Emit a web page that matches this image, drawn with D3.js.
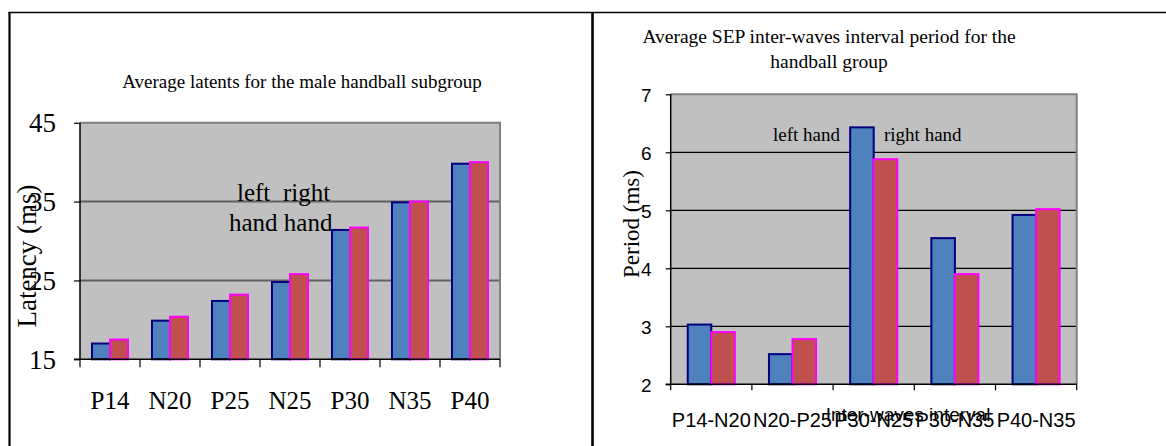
<!DOCTYPE html>
<html>
<head>
<meta charset="utf-8">
<script src="https://cdn.jsdelivr.net/npm/d3@7"></script>
<style>
  html, body { margin: 0; padding: 0; background: #fff; }
  svg { display: block; }
</style>
</head>
<body>
<svg id="chart" width="1166" height="446"></svg>
<script>
// ---- Data: latencies per wave (left panel) ----
const latencyWaves = ["P14", "N20", "P25", "N25", "P30", "N35", "P40"];
const latencyLeft  = [17.0, 19.9, 22.4, 24.8, 31.4, 34.9, 39.8];
const latencyRight = [17.5, 20.4, 23.2, 25.8, 31.7, 35.0, 40.0];
const latencyTicks = [15, 25, 35, 45];

// ---- Data: inter-wave interval periods (right panel) ----
const intervals    = ["P14-N20", "N20-P25", "P30-N25", "P30-N35", "P40-N35"];
const periodLeft   = [3.03, 2.52, 6.43, 4.52, 4.92];
const periodRight  = [2.90, 2.78, 5.88, 3.90, 5.02];
const periodTicks  = [2, 3, 4, 5, 6, 7];

const hands = ["left", "right"];
const SERIF = "'Liberation Serif', 'Times New Roman', serif";
const SANS  = "'Liberation Sans', Arial, sans-serif";

const svg = d3.select("#chart");

// Panel frames
const frame = svg.append("g").attr("stroke", "#000").attr("fill", "none");
frame.append("line").attr("x1", 8.5).attr("x2", 1166).attr("y1", 12.5).attr("y2", 12.5).attr("stroke-width", 1.6);
frame.append("line").attr("x1", 9.5).attr("x2", 9.5).attr("y1", 12).attr("y2", 446).attr("stroke-width", 2.2);
frame.append("line").attr("x1", 592.5).attr("x2", 592.5).attr("y1", 12).attr("y2", 446).attr("stroke-width", 2.6);

function drawPanel(cfg) {
  const g = svg.append("g");
  const y = d3.scaleLinear().domain(cfg.domain).range([cfg.bottom, cfg.top]);
  const x = d3.scaleBand().domain(cfg.cats).range([cfg.left, cfg.right])
    .paddingInner(cfg.padIn).paddingOuter(cfg.padOut);
  const xs = d3.scaleBand().domain(hands).range([0, x.bandwidth()]);
  const step = (cfg.right - cfg.left) / cfg.cats.length;

  // plot background
  g.append("rect").attr("x", cfg.left).attr("y", cfg.top)
    .attr("width", cfg.right - cfg.left).attr("height", cfg.bottom - cfg.top)
    .attr("fill", "#c0c0c0");

  // horizontal gridlines
  const inner = cfg.ticks.filter(t => t !== cfg.domain[0] && t !== cfg.domain[1]);
  g.append("g").selectAll("line").data(inner).join("line")
    .attr("x1", cfg.left).attr("x2", cfg.right)
    .attr("y1", d => y(d)).attr("y2", d => y(d))
    .attr("stroke", cfg.gridColor).attr("stroke-width", cfg.gridWidth);

  // top and right plot border
  g.append("path")
    .attr("d", `M${cfg.left},${y(cfg.domain[1])}H${cfg.right}V${cfg.bottom}`)
    .attr("fill", "none").attr("stroke", "#808080").attr("stroke-width", 2);

  // bars
  const rows = cfg.cats.map((c, i) => ({ c, left: cfg.leftVals[i], right: cfg.rightVals[i] }));
  const grp = g.append("g").selectAll("g").data(rows).join("g")
    .attr("transform", d => `translate(${x(d.c)},0)`);
  grp.append("rect")
    .attr("x", xs("left")).attr("width", xs.bandwidth())
    .attr("y", d => y(d.left)).attr("height", d => cfg.bottom - y(d.left))
    .attr("fill", "#4f81bd").attr("stroke", "#000080").attr("stroke-width", cfg.barStroke);
  grp.append("rect")
    .attr("x", xs("right")).attr("width", xs.bandwidth())
    .attr("y", d => y(d.right)).attr("height", d => cfg.bottom - y(d.right))
    .attr("fill", "#c0504d").attr("stroke", "#ff00ff").attr("stroke-width", cfg.barStroke);

  // y axis
  const yAxis = d3.axisLeft(y).tickValues(cfg.ticks).tickSize(cfg.yTick).tickPadding(cfg.yPad)
    .tickFormat(d3.format("d"));
  const ya = g.append("g").attr("transform", `translate(${cfg.left},0)`).call(yAxis);
  ya.select(".domain").attr("stroke", "#000").attr("stroke-width", 1.5)
    .attr("d", `M0,${cfg.top}V${cfg.bottom}`);
  ya.selectAll(".tick line").attr("stroke", "#000").attr("stroke-width", 1.2);
  ya.selectAll(".tick text").attr("font-family", cfg.yFont).attr("font-size", cfg.yFontSize)
    .attr("fill", "#000").attr("dy", cfg.yDy);

  // x axis: ticks at category boundaries
  const bounds = d3.range(cfg.cats.length + 1).map(i => cfg.left + i * step);
  g.append("line").attr("x1", cfg.left - cfg.yTick).attr("x2", cfg.right)
    .attr("y1", cfg.bottom).attr("y2", cfg.bottom)
    .attr("stroke", "#000").attr("stroke-width", 1.5);
  g.append("g").selectAll("line").data(bounds).join("line")
    .attr("x1", d => d).attr("x2", d => d)
    .attr("y1", cfg.bottom).attr("y2", cfg.bottom + cfg.xTick)
    .attr("stroke", "#000").attr("stroke-width", 1.2);
  g.append("g").selectAll("text").data(cfg.cats).join("text")
    .attr("x", d => x(d) + x.bandwidth() / 2).attr("y", cfg.xLabelY)
    .attr("text-anchor", "middle").attr("font-family", cfg.xFont)
    .attr("font-size", cfg.xFontSize).attr("fill", "#000").text(d => d);

  return { g, x, y };
}

// ---- Left panel: average latencies ----
const L = drawPanel({
  cats: latencyWaves, leftVals: latencyLeft, rightVals: latencyRight,
  domain: [15, 45], ticks: latencyTicks,
  left: 80, right: 500, top: 122.7, bottom: 359.3,
  padIn: 0.4, padOut: 0.2,
  gridColor: "#606060", gridWidth: 2, barStroke: 2,
  yTick: 6, yPad: 18, yFont: SERIF, yFontSize: 27, yDy: "0.34em",
  xTick: 8, xLabelY: 409, xFont: SERIF, xFontSize: 25
});
L.g.append("text").attr("x", 302).attr("y", 88).attr("text-anchor", "middle")
  .attr("font-family", SERIF).attr("font-size", 19).text("Average latents for the male handball subgroup");
L.g.append("text").attr("transform", "translate(36,256) rotate(-90)").attr("text-anchor", "middle")
  .attr("font-family", SERIF).attr("font-size", 27).text("Latency  (ms)");
L.g.append("text").attr("x", 237).attr("y", 201).attr("font-family", SERIF).attr("font-size", 25).text("left");
L.g.append("text").attr("x", 283).attr("y", 201).attr("font-family", SERIF).attr("font-size", 25).text("right");
L.g.append("text").attr("x", 229).attr("y", 231).attr("font-family", SERIF).attr("font-size", 25).text("hand hand");

// ---- Right panel: inter-wave interval periods ----
const R = drawPanel({
  cats: intervals, leftVals: periodLeft, rightVals: periodRight,
  domain: [2, 7], ticks: periodTicks,
  left: 670.7, right: 1076.7, top: 94.3, bottom: 384.3,
  padIn: 0.42, padOut: 0.21,
  gridColor: "#000", gridWidth: 1.2, barStroke: 2,
  yTick: 5, yPad: 14, yFont: SANS, yFontSize: 19, yDy: "0.36em",
  xTick: 6, xLabelY: 427, xFont: SANS, xFontSize: 20
});
R.g.append("text").attr("x", 829).attr("y", 43).attr("text-anchor", "middle")
  .attr("font-family", SERIF).attr("font-size", 19.5).text("Average SEP inter-waves interval period for the");
R.g.append("text").attr("x", 829).attr("y", 68).attr("text-anchor", "middle")
  .attr("font-family", SERIF).attr("font-size", 19.5).text("handball group");
R.g.append("text").attr("transform", "translate(639,224) rotate(-90)").attr("text-anchor", "middle")
  .attr("font-family", SERIF).attr("font-size", 23).text("Period  (ms)");
R.g.append("text").attr("x", 773).attr("y", 141).attr("font-family", SERIF).attr("font-size", 19).text("left hand");
R.g.append("text").attr("x", 884).attr("y", 141).attr("font-family", SERIF).attr("font-size", 19).text("right hand");
R.g.append("text").attr("x", 908).attr("y", 421).attr("text-anchor", "middle")
  .attr("font-family", SANS).attr("font-size", 19).text("Inter-waves interval");
</script>
</body>
</html>
